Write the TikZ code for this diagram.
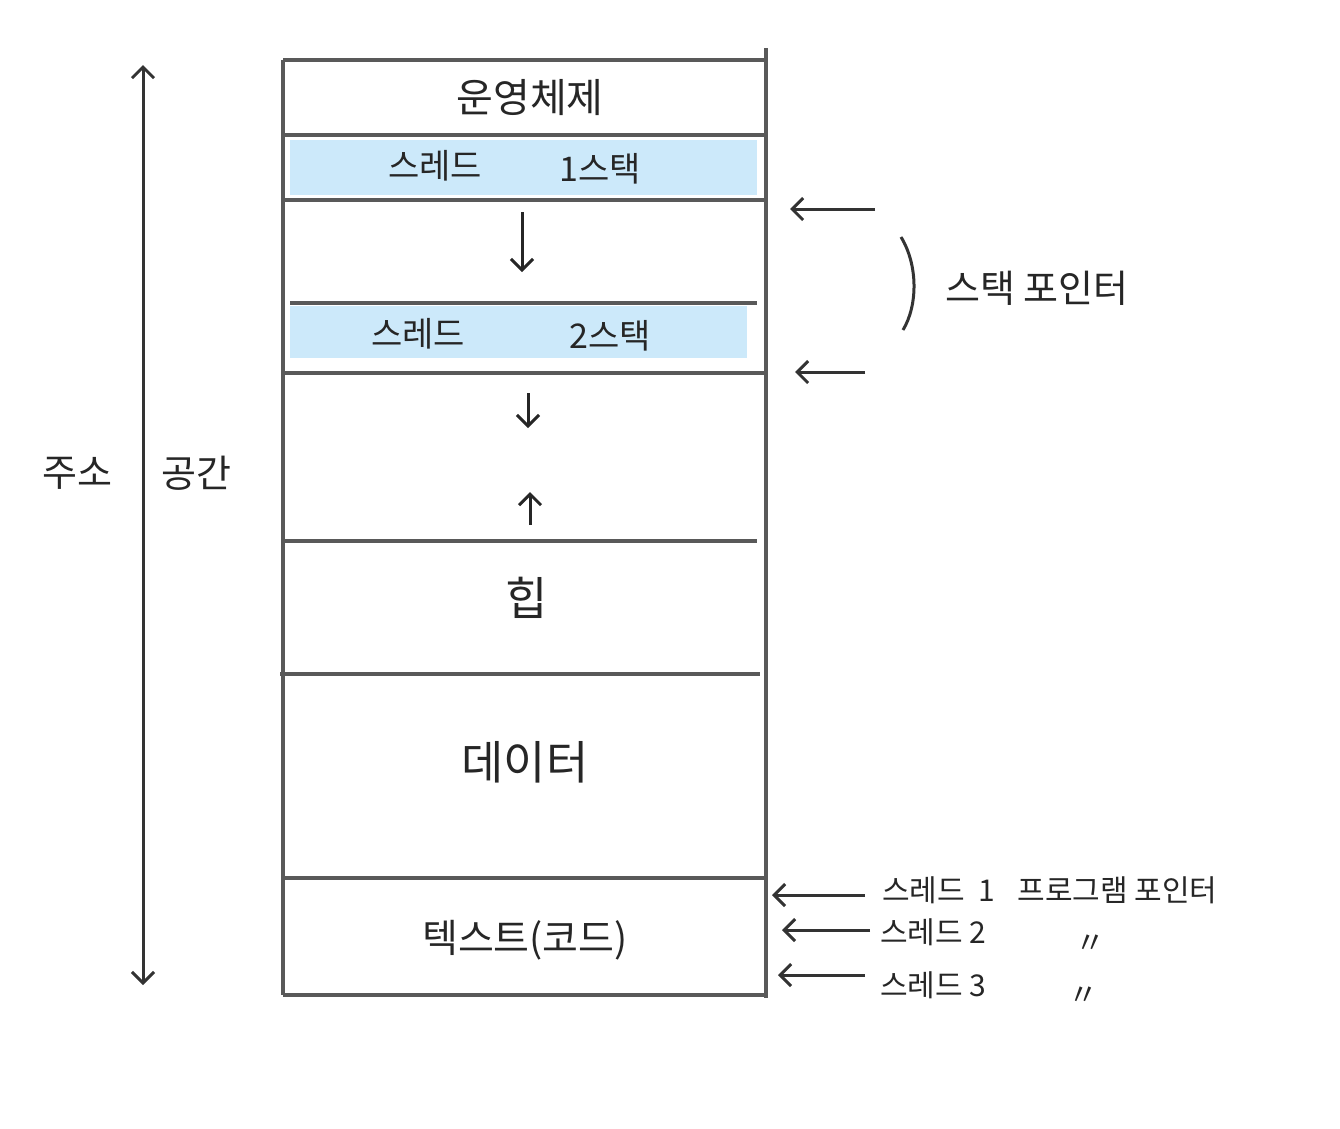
\documentclass[tikz,border=0pt]{standalone}
\usepackage{fontspec}
\setmainfont{Noto Sans CJK KR}
\usetikzlibrary{arrows.meta}
\definecolor{bandblue}{RGB}{204,233,250}
\tikzset{
  wall/.style={draw=black!65, line width=3.8pt},
  sep/.style={draw=black!65, line width=3.4pt},
  band/.style={fill=bandblue, draw=none},
  lbl/.style={font=\fontsize{34}{38}\selectfont, text=black!85, inner sep=0pt},
  slbl/.style={font=\fontsize{30}{34}\selectfont, text=black!85, inner sep=0pt, anchor=west},
  ptr/.style={draw=black!80, line width=3pt, -{Straight Barb[length=11pt,width=22pt,line width=3pt]}},
  growarrow/.style={draw=black!85, line width=3pt, -{Straight Barb[length=11pt,width=22pt,line width=3pt]}},
}
\begin{document}
\begin{tikzpicture}[x=1pt,y=-1pt]
\useasboundingbox (0,0) rectangle (1340,1128);
% blue bands
\fill[band] (290,140) rectangle (757,195);
\fill[band] (290,306) rectangle (747,358);
% walls
\draw[wall] (283,60) -- (283,995);
\draw[wall] (766,48) -- (766,998);
\draw[sep] (283,60) -- (766,60);
\draw[sep] (283,135) -- (766,135);
\draw[sep] (283,200) -- (766,200);
\draw[sep] (290,303) -- (757,303);
\draw[sep] (283,373) -- (766,373);
\draw[sep] (285,541) -- (757,541);
\draw[sep] (280,674) -- (760,674);
\draw[sep] (283,878) -- (766,878);
\draw[sep] (283,995) -- (766,995);
% texts in box
\node[lbl, font=\fontsize{40}{44}\selectfont] (os) at (530,98) {운영체제};
\node[lbl] (t1a) at (435,166) {스레드};
\node[lbl] (t1b) at (600,169) {1스택};
\node[lbl] (t2a) at (418,334) {스레드};
\node[lbl] (t2b) at (610,336) {2스택};
\node[lbl, font=\fontsize{46}{50}\selectfont] (heap) at (527,598) {힙};
\node[lbl, font=\fontsize{46}{50}\selectfont] (data) at (525,762) {데이터};
\node[lbl, font=\fontsize{39}{44}\selectfont] (text) at (525,940) {텍스트(코드)};
% growth arrows
\coordinate (g1s) at (522,212); \coordinate (g1e) at (522,272);
\coordinate (g2s) at (528,393); \coordinate (g2e) at (528,428);
\coordinate (g3s) at (530,525); \coordinate (g3e) at (530,492);
\draw[growarrow] (g1s) -- (g1e);
\draw[growarrow] (g2s) -- (g2e);
\draw[growarrow] (g3s) -- (g3e);
% address space
\coordinate (aT) at (143,65); \coordinate (aB) at (143,985);
\draw[draw=black!80, line width=3pt, {Straight Barb[length=11pt,width=22pt,line width=3pt]}-{Straight Barb[length=11pt,width=22pt,line width=3pt]}] (aT) -- (aB);
\node[lbl, font=\fontsize{38}{42}\selectfont] (addr1) at (77,473) {주소};
\node[lbl, font=\fontsize{38}{42}\selectfont] (addr2) at (196,473) {공간};
% stack pointers
\coordinate (sp1s) at (875,209); \coordinate (sp1e) at (790,209);
\coordinate (sp2s) at (865,372); \coordinate (sp2e) at (795,372);
\draw[ptr] (sp1s) -- (sp1e);
\draw[ptr] (sp2s) -- (sp2e);
\coordinate (brT) at (901,237); \coordinate (brB) at (903,330);
\draw[draw=black!80, line width=3pt] (brT) .. controls (918,265) and (918,305) .. (brB);
\node[slbl, font=\fontsize{38}{42}\selectfont] (spl) at (945,288) {스택 포인터};
% program counters
\coordinate (pc1s) at (865,895); \coordinate (pc1e) at (772,895);
\coordinate (pc2s) at (870,930); \coordinate (pc2e) at (782,930);
\coordinate (pc3s) at (865,975); \coordinate (pc3e) at (778,975);
\draw[ptr] (pc1s) -- (pc1e);
\draw[ptr] (pc2s) -- (pc2e);
\draw[ptr] (pc3s) -- (pc3e);
\node[slbl] (pc1) at (882,890) {스레드\hspace{14pt}1\hspace{22pt}프로그램 포인터};
\node[slbl] (pc2) at (880,932) {스레드 2};
\node[slbl] (pc3) at (880,985) {스레드 3};
\node[slbl] (dit2) at (1075,944) {〃};
\node[slbl] (dit3) at (1068,996) {〃};
\end{tikzpicture}
\end{document}
